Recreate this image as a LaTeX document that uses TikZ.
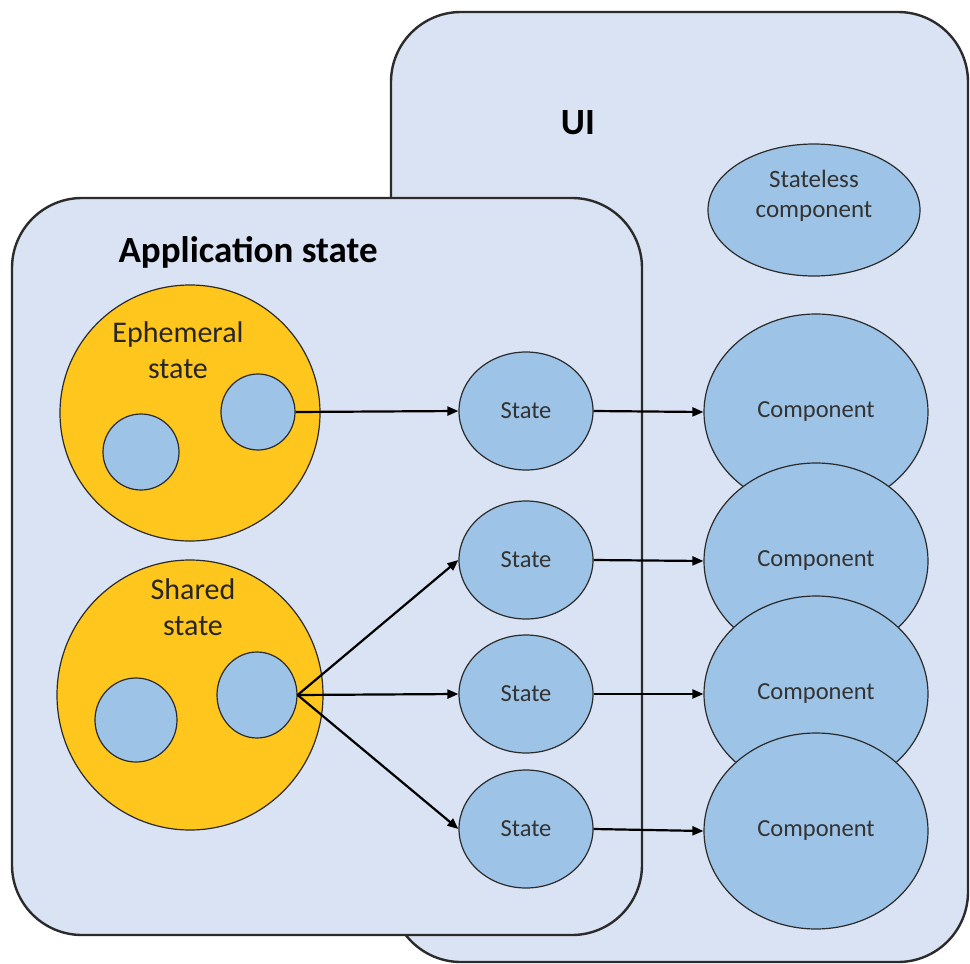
\documentclass[tikz,border=0pt]{standalone}
\usepackage{fontspec}
\setmainfont{Carlito}
\usetikzlibrary{shapes.geometric,arrows.meta}

\definecolor{panelfill}{HTML}{DAE3F3}
\definecolor{bubblefill}{HTML}{9DC3E6}
\definecolor{goldfill}{HTML}{FFC61E}
\definecolor{edgegray}{HTML}{2B2B2B}
\definecolor{labelgray}{HTML}{333333}

\tikzset{
  panel/.style={draw=edgegray, line width=2.4pt, fill=panelfill, rounded corners=70pt},
  bubble/.style={ellipse, draw=edgegray, line width=1.2pt, fill=bubblefill,
    inner sep=0pt, text=labelgray, font=\fontsize{24.5}{30}\selectfont, align=center},
  pool/.style={ellipse, draw=edgegray, line width=1.2pt, fill=goldfill, inner sep=0pt},
  poollabel/.style={text=black!85, font=\fontsize{30}{36}\selectfont, align=center},
  heading/.style={font=\fontsize{37}{44}\selectfont\bfseries, text=black},
  flow/.style={draw=black, line width=2.2pt, -{Triangle[length=11pt,width=9pt]}}
}

\begin{document}
\begin{tikzpicture}[x=1pt,y=-1pt]
  \useasboundingbox (0,0) rectangle (970,964);
  \fill[white] (0,0) rectangle (970,964);

  % the two panels
  \draw[panel] (391,12) rectangle (968,962);
  \node[heading] (uilabel) at (578,123) {UI};
  \draw[panel] (12,198) rectangle (642,935);
  \node[heading] (applabel) at (248,252) {Application state};

  % stateless component
  \node[bubble, minimum width=212pt, minimum height=132pt] (sl) at (814,210) {};
  \node[text=labelgray, font=\fontsize{25}{30}\selectfont, align=center] (sltext)
    at (814,196) {Stateless\\component};

  % ephemeral state pool
  \node[pool, minimum width=260pt, minimum height=256pt] (eph) at (190,413) {};
  \node[poollabel] (ephlabel) at (178,350) {Ephemeral\\state};
  \node[bubble, minimum width=76pt, minimum height=76pt] (e1) at (141,452) {};
  \node[bubble, minimum width=74pt, minimum height=76pt] (e2) at (258,412) {};

  % shared state pool
  \node[pool, minimum width=266pt, minimum height=270pt] (sh) at (190,695) {};
  \node[poollabel] (shlabel) at (193,607) {Shared\\state};
  \node[bubble, minimum width=82pt, minimum height=84pt] (s1) at (136,720) {};
  \node[bubble, minimum width=80pt, minimum height=86pt] (s2) at (257,695) {};

  % state nodes
  \foreach \i/\y in {1/411, 2/560, 3/694, 4/829} {
    \node[bubble, minimum width=134pt, minimum height=118pt] (st\i) at (526,\y) {State};
  }

  % component nodes, each overlapping the one above
  \foreach \i/\y in {1/412, 2/561, 3/694, 4/831} {
    \node[bubble, minimum width=224pt, minimum height=196pt] (c\i) at (816,\y) {Component};
  }

  % connectors
  \draw[flow] (e2.east) -- (st1.west);
  \draw[flow] (s2.east) -- (st2.west);
  \draw[flow] (s2.east) -- (st3.west);
  \draw[flow] (s2.east) -- (st4.west);
  \foreach \i in {1,2,3,4} {
    \draw[flow] (st\i.east) -- (c\i.west);
  }
\end{tikzpicture}
\end{document}
